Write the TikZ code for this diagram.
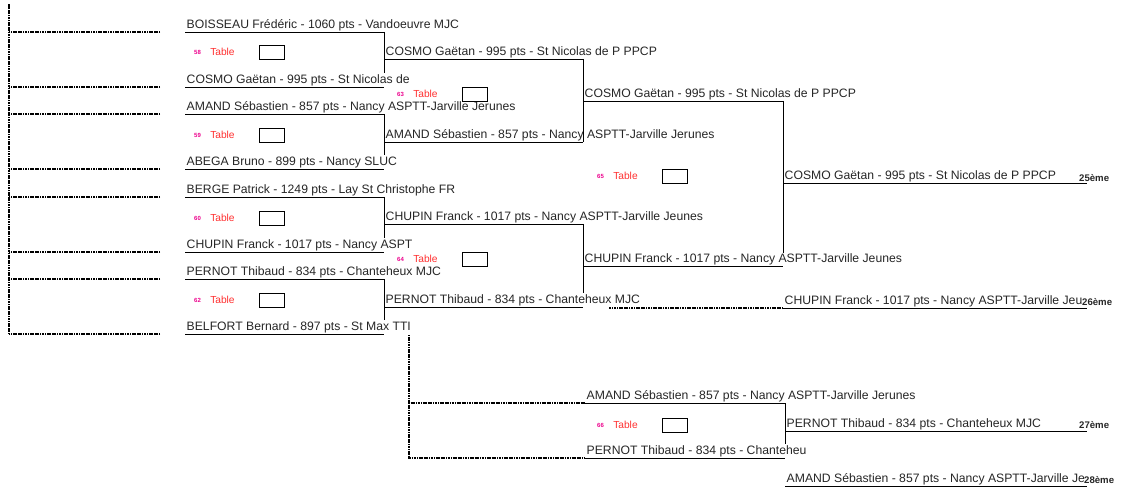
\documentclass[tikz,border=0pt]{standalone}
\usepackage{fontspec}
\setmainfont{Liberation Sans}
\usepackage{xcolor}
\usepackage{tikz}
\usetikzlibrary{positioning}
\colorlet{namegray}{black!85}
\definecolor{tablered}{HTML}{FF3030}
\colorlet{tablenum}{magenta}
\tikzstyle{player}=[anchor=south west,inner xsep=0pt,inner ysep=.8pt,font=\fontsize{12.2}{14}\selectfont,text=namegray]
\tikzstyle{rule}=[line width=.8pt]
\tikzstyle{dots}=[line width=1.4pt,dash pattern=on 1.2pt off .5pt]
\tikzstyle{tnum}=[anchor=west,inner sep=0pt,font=\fontsize{6}{7}\selectfont\bfseries,text=tablenum]
\tikzstyle{tlabel}=[inner sep=0pt,font=\fontsize{10.2}{12}\selectfont,text=tablered]
\tikzstyle{tbox}=[draw,line width=.8pt,minimum width=25pt,minimum height=14pt,inner sep=0pt]
\tikzstyle{rank}=[anchor=west,inner sep=0pt,font=\fontsize{9.6}{11}\selectfont\bfseries,text=namegray]
% one line of the draw: name, x, y, width, text
\newcommand\player[5]{%
  \node[player] (#1) at (#2,#3) {\makebox[#4pt][l]{\hspace{1.5pt}#5\vphantom{p}}};
  \draw[rule] (#1.south west) -- (#1.south east);}
% table number, x, y
\newcommand\tablecell[3]{%
  \node[tnum] (n#1) at (#2,#3) {#1};
  \node[tlabel,right=9pt of n#1] (t#1) {Table};
  \node[tbox,right=24pt of t#1] (b#1) {};}

\begin{document}
\begin{tikzpicture}[x=1pt,y=-1pt]
  \useasboundingbox (0,0) rectangle (1123,494);
  % first round
  \player{r1a}{185}{32}{199}{BOISSEAU Frédéric - 1060 pts - Vandoeuvre MJC}
  \player{r1b}{185}{87}{199}{COSMO Gaëtan - 995 pts - St Nicolas de}
  \player{r1c}{185}{114}{199}{AMAND Sébastien - 857 pts - Nancy ASPTT-Jarville Jerunes}
  \player{r1d}{185}{169}{199}{ABEGA Bruno - 899 pts - Nancy SLUC}
  \player{r1e}{185}{197}{199}{BERGE Patrick - 1249 pts - Lay St Christophe FR}
  \player{r1f}{185}{252}{199}{CHUPIN Franck - 1017 pts - Nancy ASPT}
  \player{r1g}{185}{279}{199}{PERNOT Thibaud - 834 pts - Chanteheux MJC}
  \player{r1h}{185}{334}{199}{BELFORT Bernard - 897 pts - St Max TTI}
  % second round
  \player{r2a}{384}{59}{199}{COSMO Gaëtan - 995 pts - St Nicolas de P PPCP}
  \player{r2b}{384}{142}{199}{AMAND Sébastien - 857 pts - Nancy ASPTT-Jarville Jerunes}
  \player{r2c}{384}{224}{199}{CHUPIN Franck - 1017 pts - Nancy ASPTT-Jarville Jeunes}
  \player{r2d}{384}{307}{199}{PERNOT Thibaud - 834 pts - Chanteheux MJC}
  % third round
  \player{r3a}{583}{101}{200}{COSMO Gaëtan - 995 pts - St Nicolas de P PPCP}
  \player{r3b}{583}{266}{200}{CHUPIN Franck - 1017 pts - Nancy ASPTT-Jarville Jeunes}
  % places 25 and 26
  \player{r4a}{783}{183}{304}{COSMO Gaëtan - 995 pts - St Nicolas de P PPCP}
  \player{r4b}{783}{308}{304}{CHUPIN Franck - 1017 pts - Nancy ASPTT-Jarville Jeu}
  % places 27 and 28
  \player{b1}{585}{403}{200}{AMAND Sébastien - 857 pts - Nancy ASPTT-Jarville Jerunes}
  \player{b2}{585}{458}{200}{PERNOT Thibaud - 834 pts - Chanteheu}
  \player{b3}{785}{431}{302}{PERNOT Thibaud - 834 pts - Chanteheux MJC}
  \player{b4}{785}{486}{302}{AMAND Sébastien - 857 pts - Nancy ASPTT-Jarville Je}
  \node[rank] (k25) at (1079,178) {25ème};
  \node[rank] (k26) at (1082,302) {26ème};
  \node[rank] (k27) at (1079,425) {27ème};
  \node[rank] (k28) at (1084,480) {28ème};
  % tables
  \tablecell{58}{194}{52}
  \tablecell{59}{194}{135}
  \tablecell{60}{194}{218}
  \tablecell{62}{194}{300}
  \tablecell{63}{397}{94}
  \tablecell{64}{397}{259}
  \tablecell{65}{597}{176}
  \tablecell{66}{597}{425}
  % brackets
  \draw[rule] (r1a.south east) -- ++(0,41);
  \draw[rule] (r1c.south east) -- ++(0,41);
  \draw[rule] (r1e.south east) -- ++(0,41);
  \draw[rule] (r1g.south east) -- ++(0,41);
  \draw[rule] (r2a.south east) -- (r2b.south east);
  \draw[rule] (r2c.south east) -- ++(0,69);
  \draw[rule] (r3a.south east) -- ++(0,152);
  \draw[rule] (b1.south east) -- ++(0,41);
  % dotted links
  \foreach \p in {r1a,r1b,r1c,r1d,r1e,r1f,r1g,r1h}
    \draw[dots] (\p.south west) ++(-25,0) -- ++(-151,0);
  \draw[dots] (r1h.south west) ++(-176,0) -- ++(0,-330);
  \draw[dots] (r4b.south west) -- ++(-174,0);
  \coordinate (loser) at (409,335);
  \draw[dots] (loser) |- (b2.south west);
  \draw[dots] (loser |- b1.south west) -- (b1.south west);
\end{tikzpicture}
\end{document}
